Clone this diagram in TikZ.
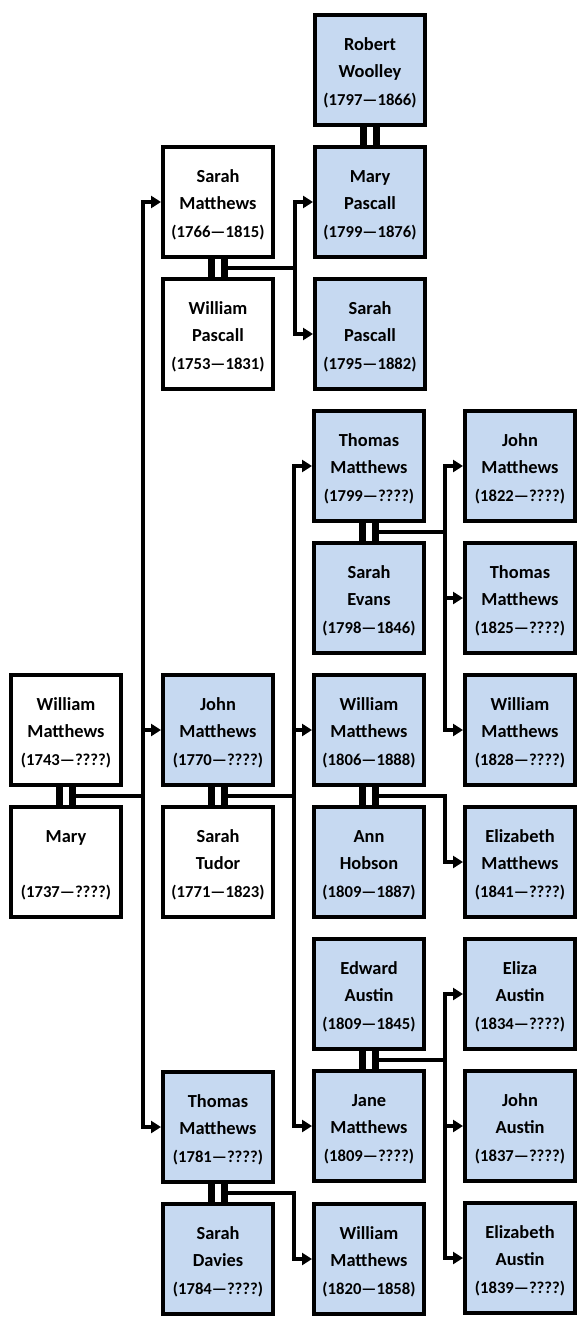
\documentclass[tikz,border=0pt]{standalone}
\usepackage{fontspec}
\setmainfont{Carlito}
\usetikzlibrary{arrows.meta,calc}
\definecolor{kinblue}{RGB}{198,217,241}
\newcommand{\who}[3]{\rule{0pt}{14pt}#1\\#2\\[0.75pt]{\fontsize{12.5}{20.25}\selectfont(#3)}}

\begin{document}
\begin{tikzpicture}[x=0.75pt,y=-0.75pt,
	person/.style={shape=rectangle,draw=black,line width=3pt,fill=white,minimum width=82.5pt,minimum height=82.5pt,inner sep=0pt,align=center,font=\fontsize{13.8}{20.25}\selectfont\bfseries},
	blood/.style={person,fill=kinblue},
	wed/.style={line width=5.25pt},
	link/.style={line width=3pt},
	child/.style={link,-{Triangle[length=7.5pt,width=9pt]}}]
	\useasboundingbox (0,0) rectangle (584,1326);
	
	% generation 1
	\node[person] (wm) at (66,730) {\who{William}{Matthews}{1743—????}};
	\node[person] (mary) at (66,862) {\who{Mary}{~}{1737—????}};
	
	% generation 2
	\node[person] (sm) at (218,202) {\who{Sarah}{Matthews}{1766—1815}};
	\node[person] (wp) at (218,334) {\who{William}{Pascall}{1753—1831}};
	\node[blood] (jm) at (218,730) {\who{John}{Matthews}{1770—????}};
	\node[person] (st) at (218,862) {\who{Sarah}{Tudor}{1771—1823}};
	\node[blood] (tm) at (218,1127) {\who{Thomas}{Matthews}{1781—????}};
	\node[blood] (sd) at (218,1259) {\who{Sarah}{Davies}{1784—????}};
	
	% generation 3
	\node[blood] (rw) at (370,70) {\who{Robert}{Woolley}{1797—1866}};
	\node[blood] (mp) at (370,202) {\who{Mary}{Pascall}{1799—1876}};
	\node[blood] (sp) at (370,334) {\who{Sarah}{Pascall}{1795—1882}};
	\node[blood] (tm2) at (369,466) {\who{Thomas}{Matthews}{1799—????}};
	\node[blood] (se) at (369,598) {\who{Sarah}{Evans}{1798—1846}};
	\node[blood] (wm2) at (369,730) {\who{William}{Matthews}{1806—1888}};
	\node[blood] (ah) at (369,862) {\who{Ann}{Hobson}{1809—1887}};
	\node[blood] (ea) at (369,994) {\who{Edward}{Austin}{1809—1845}};
	\node[blood] (jane) at (369,1126) {\who{Jane}{Matthews}{1809—????}};
	\node[blood] (wm3) at (369,1259) {\who{William}{Matthews}{1820—1858}};
	
	% generation 4
	\node[blood] (jm3) at (520,466) {\who{John}{Matthews}{1822—????}};
	\node[blood] (tm3) at (520,598) {\who{Thomas}{Matthews}{1825—????}};
	\node[blood] (wm4) at (520,730) {\who{William}{Matthews}{1828—????}};
	\node[blood] (em) at (520,862) {\who{Elizabeth}{Matthews}{1841—????}};
	\node[blood] (eliza) at (520,994) {\who{Eliza}{Austin}{1834—????}};
	\node[blood] (ja) at (520,1126) {\who{John}{Austin}{1837—????}};
	\node[blood] (eaus) at (520,1258) {\who{Elizabeth}{Austin}{1839—????}};
	
	% marriages
	\foreach \a/\b/\f in {wm/mary/f1,sm/wp/f2,rw/mp/f0,jm/st/f4,tm2/se/f5,wm2/ah/f6,ea/jane/f7,tm/sd/f8}{
		\draw[wed] ([xshift=-4.9pt]\a.south) -- ([xshift=-4.9pt]\b.north);
		\draw[wed] ([xshift=4.9pt]\a.south) -- ([xshift=4.9pt]\b.north);
		\coordinate (\f) at ($(\a.south)!.5!(\b.north)+(6.5,0)$);
	}
	
	% children
	\foreach \f/\c in {f1/sm,f1/jm,f1/tm,f2/mp,f2/sp,f4/tm2,f4/wm2,f4/jane,f5/jm3,f5/tm3,f5/wm4,f6/em,f7/eliza,f7/ja,f7/eaus,f8/wm3}
		\draw[child] (\f) -| ([xshift=-13.5pt]\c.west) -- (\c.west);
\end{tikzpicture}
\end{document}
